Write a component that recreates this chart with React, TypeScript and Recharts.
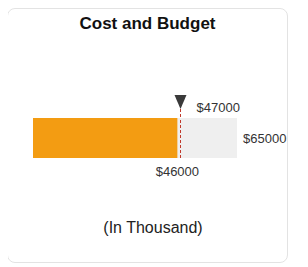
import React from "react";
import { ComposedChart, Bar, XAxis, YAxis, ReferenceLine, LabelList } from "recharts";

const categories = ["Cost"];
const costValues = [46000];
const budgetValues = [65000];
const targetValues = [47000];
const axisDomain = [0, 65000];

const data = categories.map((name, i) => ({
  name,
  cost: costValues[i],
  budget: budgetValues[i],
}));

const FONT = '"Liberation Sans", Arial, sans-serif';

function money(v: number): string {
  return `$${v}`;
}

function CostLabel(props: any) {
  const { x, y, width, height, value } = props;
  return (
    <text
      x={x + width}
      y={y + height + 18}
      textAnchor="middle"
      fontSize={13}
      fontFamily={FONT}
      fill="#333"
    >
      {money(value)}
    </text>
  );
}

function TargetMarker(props: any) {
  const { viewBox, value } = props;
  const x = viewBox.x;
  const y = viewBox.y;
  return (
    <g>
      <line x1={x} y1={y - 9} x2={x} y2={y} stroke="#c0392b" strokeDasharray="3 2" />
      <polygon points={`${x - 6},${y - 23} ${x + 6},${y - 23} ${x},${y - 9}`} fill="#3a3a3a" />
      <text x={x + 16} y={y - 6} fontSize={13} fontFamily={FONT} fill="#333">
        {money(value)}
      </text>
    </g>
  );
}

export default function App() {
  return (
    <div
      style={{
        position: "relative",
        marginLeft: -1,
        width: 281,
        height: 255,
        boxSizing: "border-box",
        border: "1px solid #e3e3e3",
        borderRadius: 8,
        background: "#fff",
        fontFamily: FONT,
      }}
    >
      <div
        style={{
          position: "absolute",
          top: 5,
          left: 0,
          width: "100%",
          textAlign: "center",
          fontSize: 17,
          lineHeight: "20px",
          fontWeight: "bold",
          color: "#111",
        }}
      >
        Cost and Budget
      </div>
      <div style={{ position: "absolute", top: 71, left: 0 }}>
        <ComposedChart
          width={279}
          height={120}
          data={data}
          layout="vertical"
          margin={{ top: 38, right: 50, bottom: 42, left: 25 }}
          barCategoryGap={0}
          barGap="-100%"
        >
          <XAxis type="number" domain={axisDomain} hide />
          <YAxis type="category" dataKey="name" hide />
          <Bar dataKey="budget" fill="#efefef" isAnimationActive={false}>
            <LabelList
              dataKey="budget"
              position="right"
              offset={6}
              formatter={(v: any) => money(v)}
              style={{ fontSize: 13, fontFamily: FONT, fill: "#333" }}
            />
          </Bar>
          <Bar dataKey="cost" fill="#f39c12" isAnimationActive={false}>
            <LabelList dataKey="cost" content={<CostLabel />} />
          </Bar>
          <ReferenceLine
            x={targetValues[0]}
            stroke="#c0392b"
            strokeDasharray="3 2"
            label={<TargetMarker value={targetValues[0]} />}
          />
        </ComposedChart>
      </div>
      <div
        style={{
          position: "absolute",
          top: 209,
          left: 0,
          width: "100%",
          boxSizing: "border-box",
          paddingLeft: 11,
          textAlign: "center",
          fontSize: 16,
          lineHeight: "20px",
          color: "#222",
        }}
      >
        (In Thousand)
      </div>
    </div>
  );
}
